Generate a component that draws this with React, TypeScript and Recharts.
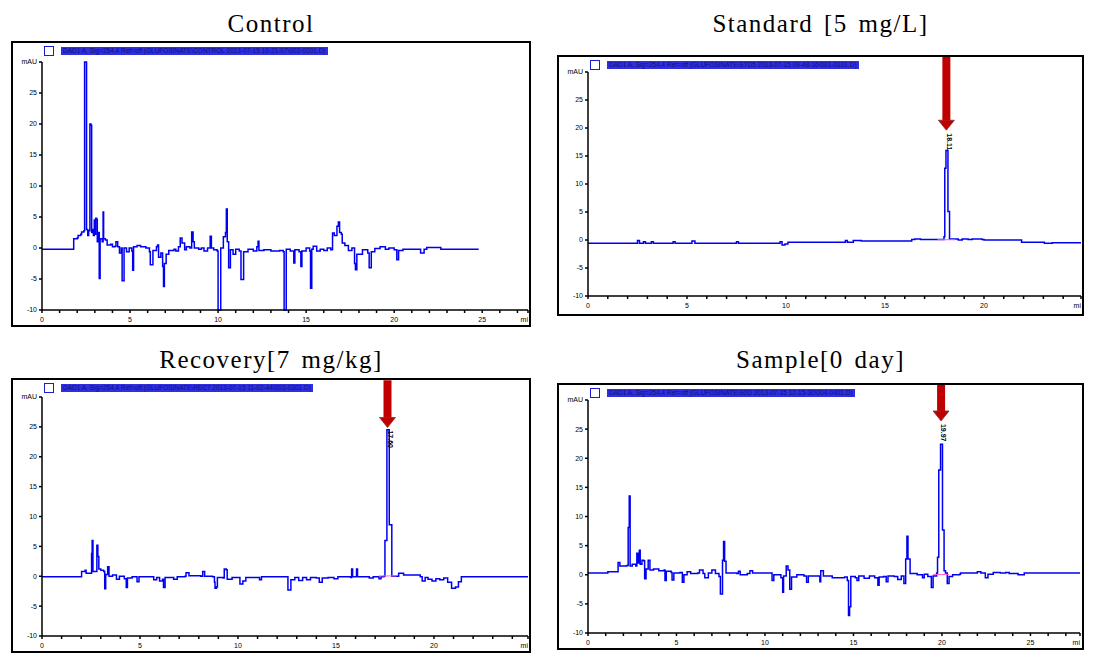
import React from "react";
import { LineChart, Line, XAxis, YAxis, ReferenceLine, ReferenceDot } from "recharts";

// chromatogram traces, [time (min), signal (mAU)]
const controlTrace = [
  [0, -0.2], [1.75, -0.2], [1.8, 1.5], [2.0, 1.6], [2.05, 2.0], [2.2, 2.2], [2.25, 2.6], [2.38, 2.8],
  [2.42, 30], [2.5, 30], [2.53, 3.0], [2.6, 2.0], [2.65, 2.8], [2.72, 20], [2.78, 19.8], [2.82, 2.5],
  [2.88, 3.0], [2.92, 2.0], [2.97, 4.5], [3.0, 2.2], [3.05, 4.8], [3.1, 4.6], [3.14, 1.0], [3.2, 2.5],
  [3.25, -4.9], [3.3, 1.5], [3.42, 1.0], [3.47, 5.8], [3.5, 1.5], [3.6, 1.3], [3.7, 0.5], [3.9, 0.6],
  [4.0, 0.2], [4.15, 0.3], [4.2, 1.0], [4.3, 0.2], [4.4, -0.8], [4.5, 0.0], [4.55, -5.3], [4.62, -5.3],
  [4.66, 0.0], [4.8, -0.6], [4.95, 0.0], [5.1, -0.5], [5.15, -3.6], [5.2, 0.2], [5.4, 0.4], [5.6, 0.2],
  [5.9, 0.0], [6.1, -0.6], [6.15, -2.7], [6.25, -2.7], [6.3, -0.4], [6.5, 0.2], [6.56, 0.5], [6.62, -1.5],
  [6.75, -0.8], [6.85, -3.0], [6.9, -6.2], [6.95, -2.5], [7.05, -1.0], [7.2, -0.4], [7.5, -0.2], [7.6, -0.5],
  [7.75, 0.2], [7.85, 1.6], [7.95, 0.8], [8.1, -0.3], [8.2, 0.2], [8.4, 0.0], [8.5, 2.6], [8.58, 1.0],
  [8.65, 0.0], [8.9, -0.2], [9.05, 0.0], [9.2, -0.5], [9.4, 0.0], [9.55, 1.9], [9.62, 0.0], [9.75, -0.3],
  [9.95, -0.5], [10.0, -10], [10.1, -10], [10.15, 0.0], [10.3, 1.8], [10.42, 2.5], [10.47, 6.3], [10.52, 1.0],
  [10.6, -3.2], [10.65, -3.2], [10.7, -0.3], [10.85, -1.0], [11.0, -0.2], [11.2, -0.5], [11.3, -5.1],
  [11.4, -5.1], [11.45, -0.6], [11.7, -0.2], [12.0, -0.5], [12.2, 0.2], [12.27, 1.1], [12.32, -0.4],
  [12.6, -0.3], [13.0, -0.5], [13.5, -0.4], [13.7, -0.6], [13.75, -10], [13.82, -10], [13.87, -0.2],
  [14.1, -0.5], [14.3, -2.4], [14.36, -0.3], [14.6, -0.6], [14.7, -3.0], [14.76, -0.5], [15.0, 0.0],
  [15.2, -0.5], [15.25, -6.5], [15.32, -0.2], [15.4, 0.3], [15.6, -0.5], [15.8, -0.2], [16.0, -0.4],
  [16.2, 0.0], [16.4, -0.3], [16.5, 2.4], [16.6, 2.0], [16.75, 3.5], [16.83, 4.2], [16.9, 2.5], [17.0, 2.2],
  [17.05, 0.8], [17.2, 0.4], [17.4, -0.4], [17.6, 0.0], [17.75, -2.5], [17.8, -3.5], [17.88, -1.0],
  [18.0, -1.0], [18.2, -0.3], [18.5, -0.8], [18.58, -3.2], [18.65, -3.2], [18.7, -0.6], [18.9, -0.1],
  [19.2, 0.2], [19.5, -0.2], [19.7, 0.0], [20.0, -0.3], [20.15, -1.9], [20.25, -0.4], [20.5, -0.2],
  [21.4, -0.2], [21.5, -0.8], [21.65, -0.8], [21.7, -0.2], [21.85, 0.1], [22.6, 0.1], [22.65, -0.2],
  [24.8, -0.2],
];

const standardTrace = [
  [0, -0.6], [2.4, -0.6], [2.5, -0.1], [2.6, -0.6], [2.8, -0.3], [2.9, -0.6], [3.2, -0.3], [3.3, -0.6],
  [4.3, -0.3], [4.4, -0.6], [5.25, -0.2], [5.4, -0.6], [7.5, -0.3], [7.6, -0.6], [9.7, -0.3], [9.8, -0.9],
  [9.95, -0.7], [10.1, -0.4], [12.9, -0.4], [13.0, -0.1], [13.1, -0.4], [13.4, -0.1], [13.7, -0.1],
  [13.8, -0.2], [16.3, -0.2], [16.35, 0.1], [16.5, 0.2], [16.8, 0.1], [17.9, 0.1], [17.98, 0.6],
  [18.02, 12.8], [18.08, 16.0], [18.14, 16.0], [18.18, 5.1], [18.22, 5.1], [18.26, 0.2], [18.6, 0.2],
  [18.7, 0.0], [18.9, 0.2], [19.2, 0.1], [19.4, 0.2], [19.9, 0.1], [20.0, 0.0], [21.85, 0.0], [21.9, -0.4],
  [23.0, -0.4], [23.05, -0.6], [23.4, -0.6], [23.45, -0.5], [24.9, -0.6],
];

const recoveryTrace = [
  [0, -0.1], [2.0, -0.1], [2.02, 0.8], [2.2, 1.0], [2.25, 0.5], [2.5, 0.5], [2.53, 3.8], [2.56, 6.0],
  [2.6, 0.8], [2.75, 0.8], [2.8, 5.2], [2.85, 3.3], [2.9, 1.2], [3.0, 1.0], [3.15, 0.8], [3.2, -2.1],
  [3.25, 0.3], [3.35, 1.6], [3.42, 0.0], [3.6, 0.2], [3.8, -0.5], [3.95, 0.0], [4.2, -0.4], [4.3, -1.9],
  [4.36, -0.3], [4.6, -0.1], [4.85, -0.9], [4.95, -0.1], [5.6, -0.1], [5.7, -0.6], [5.85, -0.2],
  [6.0, -0.8], [6.15, -0.5], [6.2, -1.9], [6.28, -0.2], [6.6, -0.2], [6.72, -0.5], [6.9, -0.1], [7.3, 0.0],
  [7.35, 0.6], [7.5, 0.1], [8.1, 0.0], [8.2, 0.8], [8.3, 0.0], [8.7, -0.1], [8.8, -1.0], [8.83, -2.0],
  [8.9, -1.8], [8.95, -0.2], [9.25, -0.3], [9.3, 1.2], [9.4, 1.1], [9.45, -0.5], [9.7, -0.2], [10.0, -0.2],
  [10.1, -1.3], [10.25, -0.8], [10.4, -0.2], [11.0, -0.2], [11.1, -0.6], [11.2, -0.1], [12.5, -0.1],
  [12.55, -2.3], [12.65, -2.3], [12.7, -0.6], [12.9, -0.2], [13.1, -0.7], [13.3, -0.2], [13.5, -0.6],
  [13.7, -0.2], [14.0, -0.3], [14.15, -1.0], [14.3, -0.3], [14.6, -0.2], [14.9, -0.4], [15.1, -0.1],
  [15.75, -0.2], [15.8, 1.2], [15.85, -0.1], [16.0, -0.1], [16.05, 1.2], [16.1, -0.1], [16.7, -0.3],
  [16.9, -0.1], [17.2, -0.4], [17.3, -0.1], [17.45, 0.0], [17.5, 6.0], [17.56, 6.0], [17.6, 24.5],
  [17.68, 24.5], [17.72, 8.6], [17.8, 8.6], [17.85, 0.0], [18.1, 0.0], [18.2, 0.5], [18.35, 0.5],
  [18.45, 0.2], [18.9, 0.2], [19.3, -0.1], [19.4, -0.8], [19.55, -0.2], [19.7, -0.5], [19.9, -0.8],
  [20.1, -0.4], [20.3, -0.6], [20.5, -0.3], [20.7, -1.0], [20.9, -2.0], [21.1, -1.8], [21.25, -0.9],
  [21.4, -0.1], [24.8, -0.1],
];

const sampleTrace = [
  [0, 0.3], [1.1, 0.3], [1.12, 0.5], [1.65, 0.5], [1.7, 2.1], [1.8, 1.5], [2.2, 1.6], [2.27, 8.1],
  [2.33, 13.5], [2.38, 1.5], [2.5, 1.8], [2.7, 1.5], [2.76, 3.7], [2.82, 2.0], [2.9, 4.2], [2.95, 1.8],
  [3.05, 2.5], [3.15, 2.4], [3.2, -0.7], [3.28, 1.0], [3.4, 2.5], [3.5, 0.8], [3.7, 1.0], [4.0, 0.7],
  [4.3, 0.8], [4.35, -1.0], [4.42, 0.6], [4.7, 0.4], [4.75, -0.9], [4.85, 0.3], [5.2, 0.4], [5.33, -1.3],
  [5.42, 0.0], [5.6, 0.5], [5.8, 0.2], [6.2, 0.3], [6.3, 0.8], [6.5, 0.2], [6.6, -0.5], [6.8, 0.3],
  [7.0, 0.8], [7.2, 0.2], [7.4, -0.3], [7.48, -3.3], [7.55, -3.3], [7.6, 2.5], [7.66, 5.7], [7.72, 2.3],
  [7.8, 0.3], [8.4, 0.2], [8.5, 0.6], [8.6, 0.0], [9.0, 0.2], [9.15, 0.7], [9.3, 0.3], [10.3, 0.3],
  [10.4, -1.0], [10.5, 0.0], [10.9, -0.5], [11.0, -3.0], [11.05, -0.2], [11.2, 1.5], [11.3, 0.8],
  [11.4, -2.5], [11.5, -0.4], [11.8, 0.0], [12.2, -0.2], [12.35, -1.3], [12.45, -0.2], [13.0, -0.2],
  [13.1, -1.2], [13.15, 0.7], [13.3, -0.2], [13.8, -0.5], [14.5, -0.4], [14.65, -1.0], [14.72, -7.0],
  [14.78, -5.5], [14.85, -0.3], [15.1, -0.5], [15.2, -1.0], [15.3, -0.2], [15.6, -0.6], [15.9, -0.2],
  [16.2, -0.5], [16.38, -1.8], [16.45, -0.4], [16.7, -0.3], [16.85, -1.2], [16.95, -0.2], [17.3, -0.3],
  [17.5, -0.8], [17.7, -0.2], [17.85, -1.5], [17.95, 2.7], [18.02, 6.6], [18.08, 2.7], [18.15, 2.7],
  [18.2, 0.2], [18.6, 0.0], [18.9, -0.5], [19.0, 0.1], [19.2, -0.3], [19.4, -2.2], [19.5, -0.2],
  [19.7, 0.3], [19.75, 3.0], [19.82, 18.0], [19.92, 22.4], [19.98, 22.4], [20.03, 7.7], [20.08, 7.7],
  [20.12, 0.7], [20.2, 0.3], [20.3, -1.5], [20.4, -0.3], [20.6, 0.0], [21.0, 0.1], [21.05, 0.3],
  [21.9, 0.3], [22.0, 0.5], [22.2, 0.3], [22.45, -0.5], [22.6, 0.1], [22.9, 0.4], [23.3, 0.3], [23.6, 0.4],
  [23.8, 0.2], [24.3, 0.0], [24.6, 0.0], [24.65, 0.3], [27.8, 0.3],
];

const titles = ["Control", "Standard [5 mg/L]", "Recovery[7 mg/kg]", "Sample[0 day]"];
const fileNames = [
  "DAD1 A, Sig=254,4 Ref=off (GLUFOSINATE\\CONTROL 2013-07-15 10-21-07\\002-0201.D)",
  "DAD1 A, Sig=254,4 Ref=off (GLUFOSINATE\\STD5 2013-07-15 09-48-16\\001-0101.D)",
  "DAD1 A, Sig=254,4 Ref=off (GLUFOSINATE\\REC7 2013-07-15 11-02-44\\003-0301.D)",
  "DAD1 A, Sig=254,4 Ref=off (GLUFOSINATE\\S0D 2013-07-15 12-15-30\\004-0401.D)",
];
const xMaxes = [27.6, 24.9, 24.8, 27.8];
// peak marked with the red arrow: [time, apex, label]
const peaks = [null, [18.1, 19.6, "18.11"], [17.63, 24.9, "17.60"], [19.95, 26.4, "19.97"]];
const yTicks = [-10, -5, 0, 5, 10, 15, 20, 25, 30];

const layout = [
  { box: [11, 41, 520, 286], plot: [42, 528, 62, 310], titleY: 24 },
  { box: [557, 55, 527, 261], plot: [588, 1081, 72, 296], titleY: 24 },
  { box: [11, 378, 520, 275], plot: [42, 528, 397, 636], titleY: 360 },
  { box: [557, 383, 527, 267], plot: [588, 1080, 400, 633], titleY: 360 },
];

const traces = [controlTrace, standardTrace, recoveryTrace, sampleTrace];

const tickFont = { fontSize: 7, fontFamily: "Liberation Sans", fill: "#000" };

function TimeTick(props: any) {
  const { x, y, payload, xMax } = props;
  const t = payload.value;
  const label = t === xMax ? "mi" : t % 5 === 0 ? String(t) : "";
  return (
    <text
      x={x}
      y={y + 7}
      textAnchor={t === xMax ? "end" : "middle"}
      fontSize={7}
      fontFamily="Liberation Sans"
      fill="#000"
    >
      {label}
    </text>
  );
}

function Chromatogram({ idx }: { idx: number }) {
  const { box, plot, titleY } = layout[idx];
  const [bl, bt, bw, bh] = box;
  const [pl, pr, pt, pb] = plot;
  const bd = 2;
  const w = bw - bd * 2;
  const h = bh - bd * 2;
  const yAxisW = pl - (bl + bd);
  const top = pt - (bt + bd);
  const right = bl + bw - bd - pr;
  const xAxisH = bt + bh - bd - pb;
  const pxPerUnit = (pb - pt) / 40;
  const xMax = xMaxes[idx];
  const xTicks = [...Array.from({ length: Math.floor(xMax) + 1 }, (_, i) => i), xMax];
  const data = traces[idx].map(([t, v]) => ({ t, v }));
  const peak = peaks[idx] as [number, number, string] | null;

  return (
    <>
      <div
        style={{
          position: "absolute",
          left: bl,
          top: titleY - 15,
          width: bw,
          textAlign: "center",
          fontFamily: "Liberation Serif",
          fontSize: 25,
          lineHeight: "30px",
          letterSpacing: 1.5,
          wordSpacing: 3,
        }}
      >
        {titles[idx]}
      </div>
      <div
        style={{
          position: "absolute",
          left: bl,
          top: bt,
          width: bw,
          height: bh,
          border: `${bd}px solid #000`,
          boxSizing: "border-box",
          background: "#fff",
        }}
      >
        <div style={{ position: "absolute", left: 31, top: 3, display: "flex", alignItems: "center" }}>
          <span style={{ width: 8, height: 8, border: "1.5px solid #1c1cd6", display: "inline-block" }} />
          <span
            style={{
              marginLeft: 7,
              background: "#2f2fe0",
              color: "#10107a",
              fontFamily: "Liberation Sans",
              fontSize: 6.5,
              lineHeight: "8px",
              padding: "0 2px",
              whiteSpace: "nowrap",
            }}
          >
            {fileNames[idx]}
          </span>
        </div>
        <LineChart width={w} height={h} data={data} margin={{ top, right, bottom: 0, left: 0 }}>
          <XAxis
            dataKey="t"
            type="number"
            domain={[0, xMax]}
            ticks={xTicks}
            allowDataOverflow
            height={xAxisH}
            tickSize={3}
            interval={0}
            tick={<TimeTick xMax={xMax} />}
            stroke="#000"
            strokeWidth={1.5}
          />
          <YAxis
            type="number"
            domain={[-10, 30]}
            ticks={yTicks}
            width={yAxisW}
            tickSize={3}
            interval={0}
            tickFormatter={(v: number) => (v === 30 ? "mAU" : String(v))}
            tick={tickFont}
            stroke="#000"
            strokeWidth={1.5}
          />
          <Line
            type="stepAfter"
            dataKey="v"
            stroke="#0000f0"
            strokeWidth={1.5}
            dot={false}
            isAnimationActive={false}
          />
          {peak && (
            <ReferenceLine
              segment={[
                { x: peak[0] - 0.45, y: 0.05 },
                { x: peak[0] + 0.45, y: 0.05 },
              ]}
              stroke="#ff5fc8"
              strokeWidth={1}
              ifOverflow="visible"
            />
          )}
          {peak && (
            <ReferenceLine
              segment={[
                { x: peak[0], y: 32.8 },
                { x: peak[0], y: peak[1] + 9 / pxPerUnit },
              ]}
              stroke="#c00000"
              strokeWidth={8}
              ifOverflow="visible"
            />
          )}
          {peak && (
            <ReferenceDot
              x={peak[0]}
              y={peak[1]}
              r={0}
              ifOverflow="visible"
              shape={(p: any) => (
                <polygon
                  points={`${p.cx - 8},${p.cy - 10} ${p.cx + 8},${p.cy - 10} ${p.cx},${p.cy}`}
                  fill="#c00000"
                  stroke="#8a3030"
                  strokeWidth={0.8}
                />
              )}
            />
          )}
          {peak && (
            <ReferenceDot
              x={peak[0] + 0.12}
              y={peak[1]}
              r={0}
              ifOverflow="visible"
              shape={(p: any) => (
                <text
                  x={p.cx}
                  y={p.cy + 3}
                  transform={`rotate(90 ${p.cx} ${p.cy + 3})`}
                  fontSize={7}
                  fontWeight="bold"
                  fontFamily="Liberation Sans"
                  fill="#000"
                  dominantBaseline="middle"
                >
                  {peak[2]}
                </text>
              )}
            />
          )}
        </LineChart>
      </div>
    </>
  );
}

export default function App() {
  return (
    <div style={{ position: "absolute", left: 0, top: 0, width: 1095, height: 664, background: "#fff" }}>
      {[0, 1, 2, 3].map((i) => (
        <Chromatogram key={i} idx={i} />
      ))}
    </div>
  );
}
